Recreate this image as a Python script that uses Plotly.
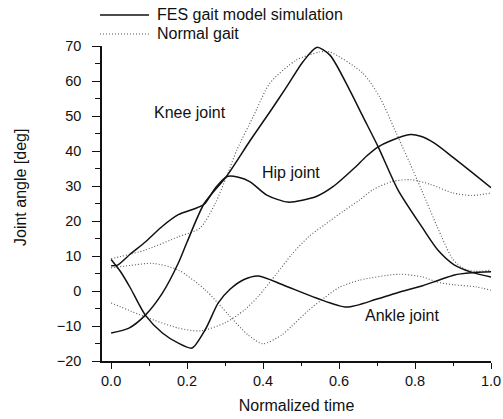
import plotly.graph_objects as go

# Knee joint angle, FES gait model simulation
knee_fes_t = [0, 0.047, 0.09, 0.135, 0.177, 0.2, 0.245, 0.304, 0.366, 0.42, 0.462, 0.505,
              0.541, 0.576, 0.628, 0.663, 0.703, 0.755, 0.818, 0.86, 0.904, 0.948, 1.0]
knee_fes = [-12, -10.6, -6.9, -0.6, 8, 14, 25, 32.8, 43, 51.5, 58.3, 65.5,
            69.6, 67.4, 57.4, 49.8, 41.2, 28.9, 18.3, 11.7, 7.4, 5.4, 4]

# Knee joint angle, normal gait
knee_nor_t = [0, 0.09, 0.177, 0.234, 0.274, 0.305, 0.331, 0.374, 0.418, 0.488, 0.55,
              0.576, 0.663, 0.707, 0.751, 0.786, 0.817, 0.87, 0.9, 0.93, 0.96, 1.0]
knee_nor = [9.2, 11.7, 15.5, 18, 25, 33, 40.3, 49.8, 59.4, 66, 68.3,
            68.3, 62.2, 55.4, 45, 36.6, 28.9, 15.5, 9, 6.3, 5.6, 6]

# Hip joint angle, FES gait model simulation
hip_fes_t = [0, 0.017, 0.05, 0.09, 0.135, 0.177, 0.22, 0.245, 0.275, 0.305, 0.335, 0.366,
             0.41, 0.466, 0.54, 0.584, 0.641, 0.672, 0.703, 0.733, 0.788, 0.815, 0.85, 0.9, 0.95, 1.0]
hip_fes = [7.2, 7.4, 10.5, 14, 18.5, 21.8, 23.5, 24.8, 29.5, 32.7, 32.5, 31.2,
           27.4, 25.4, 27, 29.8, 35.2, 38.5, 41.2, 42.8, 44.7, 44.2, 42.3, 38.2, 33.9, 29.5]

# Hip joint angle, normal gait
hip_nor_t = [0, 0.09, 0.177, 0.235, 0.3, 0.35, 0.387, 0.436, 0.476, 0.52, 0.563, 0.61,
             0.654, 0.69, 0.74, 0.79, 0.84, 0.9, 0.95, 1.0]
hip_nor = [-3.4, -7.4, -10.6, -11.4, -9.1, -5.5, -1.6, 5, 10.5, 15.5, 19, 22.7,
           26, 29, 31.3, 31.8, 30.5, 28, 27.3, 28]

# Ankle joint angle, FES gait model simulation
ankle_fes_t = [0, 0.025, 0.05, 0.09, 0.135, 0.177, 0.213, 0.248, 0.282, 0.313, 0.35, 0.388,
               0.453, 0.54, 0.62, 0.7, 0.76, 0.82, 0.86, 0.904, 0.95, 1.0]
ankle_fes = [9, 5.5, 1, -6.9, -12, -14.9, -16.3, -11, -3.4, 0.5, 3.3, 4.3,
             1.7, -2, -4.6, -2.3, -0.3, 1.5, 3, 4.6, 5.2, 5.5]

# Ankle joint angle, normal gait
ankle_nor_t = [0, 0.05, 0.11, 0.177, 0.248, 0.31, 0.36, 0.4, 0.45, 0.476, 0.52, 0.563,
               0.6, 0.654, 0.76, 0.82, 0.86, 0.9, 0.96, 1.0]
ankle_nor = [6.6, 7.3, 7.9, 6, 0.3, -6.9, -12.5, -15.1, -12.5, -10, -5.5, -1.8,
             1, 3.1, 4.8, 4, 2.5, 1.8, 1.2, 0.2]

x_ticks = [0.0, 0.2, 0.4, 0.6, 0.8, 1.0]
y_ticks = [-20, -10, 0, 10, 20, 30, 40, 50, 60, 70]

joint_labels = ["Knee joint", "Hip joint", "Ankle joint"]
joint_label_t = [0.208, 0.473, 0.765]
joint_label_y = [51.1, 34, -6.9]

FONT = "Liberation Sans, Arial, sans-serif"
INK = "#111111"
SOLID = dict(color=INK, width=1.5)
DOTTED = dict(color="#555555", width=1.1, dash="1px,2px")

fig = go.Figure()
for t, v in [(knee_nor_t, knee_nor), (hip_nor_t, hip_nor), (ankle_nor_t, ankle_nor)]:
    fig.add_trace(go.Scatter(x=t, y=v, mode="lines", line=dict(**DOTTED, shape="spline", smoothing=0.7),
                             showlegend=False, hoverinfo="skip"))
for t, v in [(knee_fes_t, knee_fes), (hip_fes_t, hip_fes), (ankle_fes_t, ankle_fes)]:
    fig.add_trace(go.Scatter(x=t, y=v, mode="lines", line=dict(**SOLID, shape="spline", smoothing=0.7),
                             showlegend=False, hoverinfo="skip"))

for txt, tx, ty in zip(joint_labels, joint_label_t, joint_label_y):
    fig.add_annotation(x=tx, y=ty, text=txt, showarrow=False,
                       font=dict(family=FONT, size=16, color=INK))

# Plot-area geometry in pixels, used to place the key and the y title
L, R, T, B = 102, 491, 46, 361
def paper(px, py):
    return (px - L) / (R - L), (B - py) / (B - T)

key = [("FES gait model simulation", SOLID, 15), ("Normal gait", DOTTED, 34)]
for label, style, py in key:
    x0, y0 = paper(100, py)
    x1, _ = paper(149, py)
    fig.add_shape(type="line", xref="paper", yref="paper", x0=x0, x1=x1, y0=y0, y1=y0,
                  line=style)
    tx, _ = paper(155, py)
    fig.add_annotation(xref="paper", yref="paper", x=tx, y=y0, xanchor="left", yanchor="middle",
                       text=label, showarrow=False,
                       font=dict(family=FONT, size=16, color=INK))

# Vertical axis title, sitting a little above the middle of the axis
ytx, yty = paper(21, 188)
fig.add_annotation(xref="paper", yref="paper", x=ytx, y=yty, xanchor="center", yanchor="middle",
                   text="Joint angle [deg]", textangle=-90, showarrow=False,
                   font=dict(family=FONT, size=16, color=INK))

fig.update_layout(
    width=503, height=419,
    margin=dict(l=L, r=503 - R, t=T, b=419 - B),
    paper_bgcolor="white", plot_bgcolor="white",
    font=dict(family=FONT, size=14.5, color=INK),
    xaxis=dict(range=[-0.024, 1.0], showgrid=False, zeroline=False, automargin=False,
               showline=True, linecolor=INK, linewidth=1.5,
               ticks="outside", ticklen=6, tickwidth=1.3, tickcolor=INK,
               tickvals=x_ticks, tickformat=".1f", ticklabelstandoff=0,
               minor=dict(ticks="outside", ticklen=3, dtick=0.1, tick0=0, tickcolor=INK),
               title=dict(text="Normalized time", standoff=12, font=dict(size=16)),
               fixedrange=True),
    yaxis=dict(range=[-20, 70], showgrid=False, zeroline=False, automargin=False,
               showline=True, linecolor=INK, linewidth=1.5,
               ticks="outside", ticklen=8, tickwidth=1.3, tickcolor=INK,
               tickvals=y_ticks, ticklabelstandoff=8,
               minor=dict(ticks="outside", ticklen=5, dtick=5, tick0=0, tickcolor=INK),
               fixedrange=True),
)

fig.write_html("out.html")
